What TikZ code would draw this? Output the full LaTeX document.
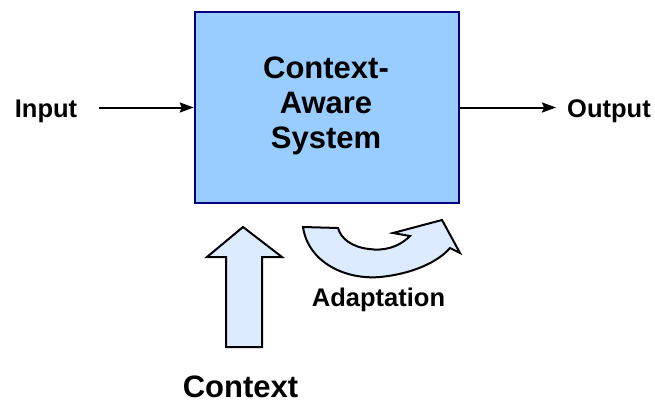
\documentclass[tikz,border=0pt]{standalone}
\usepackage{fontspec}
\setmainfont{Liberation Sans}
\usetikzlibrary{arrows.meta}
\definecolor{sysfill}{RGB}{153,204,255}
\definecolor{sysline}{RGB}{0,0,128}
\definecolor{arrowfill}{RGB}{220,235,255}
\tikzset{
  sysbox/.style={draw=sysline, fill=sysfill, line width=2.5pt, inner sep=0pt},
  bigtext/.style={font=\bfseries\fontsize{31}{35}\selectfont, inner sep=0pt, anchor=base},
  smalltext/.style={font=\bfseries\fontsize{25.5}{30}\selectfont, inner sep=0pt, anchor=base},
  flow/.style={line width=2pt, -{Stealth[length=14pt,width=10pt,inset=2pt]}},
  blockarrow/.style={draw=black, fill=arrowfill, line width=2pt, line join=miter}
}
\begin{document}
\begin{tikzpicture}[x=1pt,y=-1pt]
  \useasboundingbox (0,0) rectangle (655,404);

  % central system block
  \node[sysbox, minimum width=264pt, minimum height=191pt] (sys) at (327,107.5) {};
  \node[bigtext] (l1) at (326,78.5) {Context-};
  \node[bigtext] (l2) at (326,113.5) {Aware};
  \node[bigtext] (l3) at (326,148.5) {System};

  % input and output
  \node[smalltext] (in) at (46,117) {Input};
  \node[smalltext] (out) at (609,117) {Output};
  \draw[flow, shorten <=22pt] (in.east |- sys.west) -- (sys.west);
  \draw[flow, shorten >=11pt] (sys.east) -- (out.west |- sys.east);

  % context arrow pointing up into the block
  \draw[blockarrow] (243,227) -- (282,257) -- (262,257) -- (262,347)
    -- (226,347) -- (226,257) -- (207,257) -- cycle;
  \node[bigtext] (ctx) at (240.5,397) {Context};

  % curved adaptation arrow
  \draw[blockarrow] (303,227)
    .. controls (308,262) and (345,280) .. (380,277)
    .. controls (412,274) and (438,262) .. (450,248)
    -- (460,253) -- (442,220) -- (393,233) -- (410,236)
    .. controls (398,248) and (383,251) .. (369,249)
    .. controls (352,247) and (341,239) .. (338,228) -- cycle;
  \node[smalltext] (adapt) at (378.5,306) {Adaptation};
\end{tikzpicture}
\end{document}
